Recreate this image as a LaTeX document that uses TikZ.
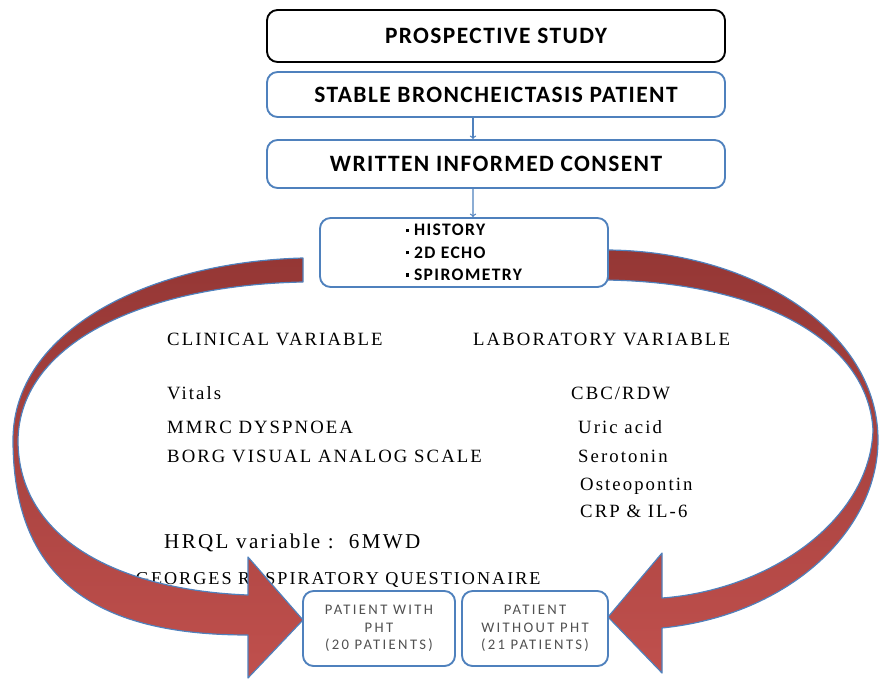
\documentclass[tikz,border=0pt]{standalone}
\usepackage{fontspec}
\setmainfont{Liberation Serif}
\newfontfamily\varfont[LetterSpace=11]{Liberation Serif}
\newfontfamily\boxfont[LetterSpace=6]{Carlito Bold}
\newfontfamily\listfont[LetterSpace=8]{Carlito Bold}
\newfontfamily\groupfont[LetterSpace=16]{Carlito}
\definecolor{boxblue}{RGB}{79,129,189}
\definecolor{darkred}{RGB}{149,55,53}
\definecolor{lightred}{RGB}{192,80,77}
\definecolor{groupgray}{RGB}{80,80,80}
\begin{document}
\begin{tikzpicture}[x=0.03cm, y=-0.03cm, line join=round, >=to,
    topbox/.style={draw=black, line width=1.6pt, rounded corners=9pt, fill=white, minimum width=13.74cm, font=\boxfont\fontsize{20}{24}\selectfont},
    bluebox/.style={draw=boxblue, line width=1.6pt, rounded corners=9pt, fill=white},
    link/.style={->, draw=boxblue, line width=1pt},
    bigarrow/.style={draw=boxblue, line width=1pt, top color=darkred, bottom color=lightred},
    var/.style={anchor=base west, inner sep=0pt, font=\varfont\fontsize{16}{18}\selectfont}]
	\useasboundingbox (0,0) rectangle (879,679);
	\node[topbox, minimum height=1.56cm] (study) at (496,36) {PROSPECTIVE STUDY};
	\node[topbox, bluebox, minimum height=1.35cm] (stable) at (496,94.5) {STABLE BRONCHEICTASIS PATIENT};
	\node[topbox, bluebox, minimum height=1.44cm] (consent) at (496,164) {WRITTEN INFORMED CONSENT};
	\node[var] (clin) at (167,345) {CLINICAL VARIABLE};
	\node[var] (vit) at (167,399) {Vitals};
	\node[var] (mmrc) at (167,433) {MMRC DYSPNOEA};
	\node[var] (borg) at (167,462) {BORG VISUAL ANALOG SCALE};
	\node[var, font=\varfont\fontsize{18}{21}\selectfont] (hrql) at (164,548) {HRQL variable :~~6MWD};
	\node[var, font=\varfont\fontsize{15.5}{18}\selectfont] (sgrq) at (112,584) {St GEORGES RESPIRATORY QUESTIONAIRE};
	\node[var] (lab) at (473,345) {LABORATORY VARIABLE};
	\node[var] (cbc) at (571,399) {CBC/RDW};
	\node[var] (uric) at (578,433) {Uric acid};
	\node[var] (sero) at (578,462) {Serotonin};
	\node[var] (osteo) at (580,490) {Osteopontin};
	\node[var] (crp) at (580,517) {CRP \& IL-6};
	\path[bigarrow] (303,258) .. controls (150,262) and (13,330) .. (13,440)
		.. controls (13,590) and (110,635) .. (248,635)
		-- (248,678) -- (303,620) -- (248,557) -- (248,595)
		.. controls (120,590) and (18,540) .. (18,440)
		.. controls (20,340) and (150,285) .. (303,282) -- cycle;
	\path[bigarrow] (605,250) .. controls (750,250) and (878,330) .. (878,440)
		.. controls (878,530) and (790,615) .. (662,628)
		-- (662,673) -- (608,617) -- (662,553) -- (662,598)
		.. controls (770,590) and (870,520) .. (873,430)
		.. controls (868,340) and (760,282) .. (605,280) -- cycle;
	\node[bluebox, minimum width=8.64cm, minimum height=2.07cm, align=left, font=\listfont\fontsize{15}{19}\selectfont] (hist) at (464,252.5)
		{\rule[0.22em]{2.8pt}{2.8pt}\hspace{4pt}HISTORY\\ \rule[0.22em]{2.8pt}{2.8pt}\hspace{4pt}2D ECHO\\ \rule[0.22em]{2.8pt}{2.8pt}\hspace{4pt}SPIROMETRY};
	\node[bluebox, minimum width=4.56cm, minimum height=2.25cm, align=center, text=groupgray, font=\groupfont\fontsize{12.5}{14.9}\selectfont] (pht) at (379,628.5)
		{PATIENT WITH\\ PHT\\ (20 PATIENTS)};
	\node[bluebox, minimum width=4.38cm, minimum height=2.25cm, align=center, text=groupgray, font=\groupfont\fontsize{12.5}{14.9}\selectfont] (nopht) at (535,628.5)
		{PATIENT\\ WITHOUT PHT\\ (21 PATIENTS)};
	\draw[link] ([xshift=-0.69cm]stable.south) -- ([xshift=-0.69cm]consent.north);
	\draw[link] ([xshift=-0.69cm]consent.south) -- ([xshift=0.27cm]hist.north);
\end{tikzpicture}
\end{document}
